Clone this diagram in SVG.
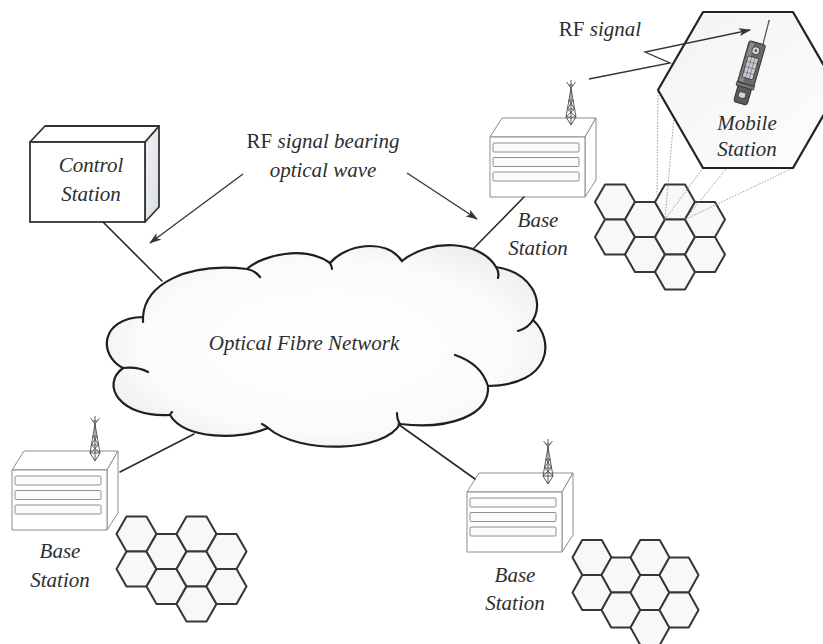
<svg xmlns="http://www.w3.org/2000/svg" xmlns:xlink="http://www.w3.org/1999/xlink" width="823" height="644" viewBox="0 0 823 644">
  <style>
    .lbl { font-family: "Liberation Serif", "DejaVu Serif", serif; font-style: italic; font-size: 21px; fill: #2e2e2e; text-anchor: middle; }
    .up { font-style: normal; }
    .link { stroke: #2a2a2a; stroke-width: 1.6; fill: none; stroke-linecap: round; }
    .arrow { stroke: #333; stroke-width: 1.3; fill: none; marker-end: url(#head); }
    .box { fill: #ffffff; stroke: #8c8c8c; stroke-width: 1; stroke-linejoin: round; }
    .bar { fill: #fbfbfb; stroke: #8f8f8f; stroke-width: 1; }
    .tower { stroke: #4a4a4a; stroke-width: 0.9; fill: none; }
    .cell { fill: #f8f8f8; stroke: #363636; stroke-width: 2; stroke-linejoin: round; }
    .dot { stroke: #9a9a9a; stroke-width: 1; stroke-dasharray: 1.5 1.5; fill: none; }
    .cloudline { fill: none; stroke: #1f1f1f; stroke-width: 2.2; stroke-linecap: round; stroke-linejoin: round; }
  </style>
  <defs>
    <marker id="head" viewBox="0 0 12 8" refX="11" refY="4" markerWidth="12" markerHeight="8" markerUnits="userSpaceOnUse" orient="auto">
      <path d="M0,0 L12,4 L0,8 L3,4 Z" fill="#333"/>
    </marker>
    <radialGradient id="cloudFill" cx="0.5" cy="0.5" r="0.6">
      <stop offset="0" stop-color="#ffffff"/>
      <stop offset="0.7" stop-color="#fbfbfb"/>
      <stop offset="1" stop-color="#ececec"/>
    </radialGradient>
    <linearGradient id="sideFill" x1="0" y1="0" x2="1" y2="1">
      <stop offset="0" stop-color="#f2f3f6"/>
      <stop offset="1" stop-color="#d9dde6"/>
    </linearGradient>
    <linearGradient id="hexFill" x1="0" y1="0" x2="1" y2="1">
      <stop offset="0" stop-color="#f3f3f3"/>
      <stop offset="1" stop-color="#fdfdfd"/>
    </linearGradient>
    <path id="cell" class="cell" d="M-20,0 L-10,-17.5 L10,-17.5 L20,0 L10,17.5 L-10,17.5 Z"/>
    <path id="cell-s" class="cell" d="M-19.5,0 L-9.75,-17.5 L9.75,-17.5 L19.5,0 L9.75,17.5 L-9.75,17.5 Z"/>
    <!-- equipment cabinet, origin at front top-left corner -->
    <g id="cabinet">
      <path class="box" d="M0,0 L12,-19 L106,-19 L95,0 Z"/>
      <path class="box" d="M95,0 L106,-19 L106,43 L95,60 Z"/>
      <rect class="box" x="0" y="0" width="95" height="60"/>
      <rect class="bar" x="3" y="6" width="86" height="9" rx="1"/>
      <rect class="bar" x="3" y="20.5" width="86" height="9" rx="1"/>
      <rect class="bar" x="3" y="35" width="86" height="9" rx="1"/>
    </g>
    <!-- lattice mast, origin at its foot -->
    <g id="mast" class="tower">
      <path d="M0,-37 L-5,-8 L0,0 L5,-8 Z"/>
      <path d="M0,-37 V0 M-2.2,-25 H2.2 M-3.6,-16 H3.6 M-5,-8 H5 M-2.2,-25 L3.6,-16 M2.2,-25 L-3.6,-16 M-3.6,-16 L5,-8 M3.6,-16 L-5,-8"/>
      <path d="M0,-37 L-4.5,-43 M0,-37 V-45 M0,-37 L4.5,-43 M-2,-40 H2"/>
    </g>
  </defs>

  <rect width="823" height="644" fill="#ffffff"/>

  <!-- Optical fibre network cloud -->
  <g id="optical-fibre-network">
    <path d="M143,317 C145,285 185,262 247,269 C262,255 305,245 330,263 C345,245 385,237 402,261 C430,238 480,240 496,267 C530,272 545,300 533,320 C555,340 552,385 488,386 C490,415 450,430 400,424 C385,452 300,455 268,428 C240,440 185,440 170,415 C120,418 100,385 123,368 C98,355 100,318 143,317 Z" fill="url(#cloudFill)" stroke="none"/>
    <path class="cloudline" d="M143,317 C145,285 185,262 247,269 C252,270 257,273 260,277"/>
    <path class="cloudline" d="M247,269 C262,255 305,245 330,263 C331,265 332,267 332,269"/>
    <path class="cloudline" d="M330,263 C345,245 385,237 402,261"/>
    <path class="cloudline" d="M402,261 C430,238 480,240 496,267 C498,270 499,274 498,278"/>
    <path class="cloudline" d="M496,267 C530,272 545,300 533,320 C530,325 525,329 518,331"/>
    <path class="cloudline" d="M533,320 C555,340 552,385 488,386"/>
    <path class="cloudline" d="M455,355 C470,360 483,370 488,386 C490,415 450,430 400,424 C398,421 397,417 397,413"/>
    <path class="cloudline" d="M400,424 C385,452 300,455 268,428 C266,426 264,425 262,424"/>
    <path class="cloudline" d="M268,428 C240,440 185,440 170,415 C170,414 171,413 172,412"/>
    <path class="cloudline" d="M170,415 C120,418 100,385 123,368 C132,367 141,368 148,372"/>
    <path class="cloudline" d="M123,368 C98,355 100,318 143,317 C143,318 143,320 143,322"/>
    <text class="lbl" x="304" y="350" font-size="22">Optical Fibre Network</text>
  </g>

  <!-- Control station -->
  <g id="control-station">
    <path d="M145,142 L159,126 L159,207 L145,222 Z" fill="url(#sideFill)" stroke="#333" stroke-width="1.8" stroke-linejoin="round"/>
    <path d="M30,142 L45,126 L159,126 L145,142 Z" fill="#ffffff" stroke="#333" stroke-width="1.8" stroke-linejoin="round"/>
    <rect x="30" y="142" width="115" height="80" fill="#ffffff" stroke="#333" stroke-width="1.8"/>
    <text class="lbl" x="91" y="172">Control</text>
    <text class="lbl" x="91" y="201">Station</text>
  </g>

  <!-- Base station, upper right -->
  <g id="base-station-1">
    <use href="#cabinet" x="490" y="137"/>
    <use href="#mast" x="571" y="125"/>
    <text class="lbl" x="538" y="227">Base</text>
    <text class="lbl" x="538" y="255">Station</text>
  </g>

  <!-- Base station, lower left -->
  <g id="base-station-2">
    <use href="#cabinet" x="12" y="470"/>
    <use href="#mast" x="95" y="461"/>
    <text class="lbl" x="60" y="558">Base</text>
    <text class="lbl" x="60" y="587">Station</text>
  </g>

  <!-- Base station, lower right -->
  <g id="base-station-3">
    <use href="#cabinet" x="467" y="492"/>
    <use href="#mast" x="548" y="484"/>
    <text class="lbl" x="515" y="582">Base</text>
    <text class="lbl" x="515" y="610">Station</text>
  </g>

  <!-- cell clusters -->
  <g id="cells-1">
    <use href="#cell" x="615" y="202"/><use href="#cell" x="615" y="237"/>
    <use href="#cell" x="645" y="219.5"/><use href="#cell" x="645" y="254.5"/>
    <use href="#cell" x="675" y="202"/><use href="#cell" x="675" y="237"/><use href="#cell" x="675" y="272"/>
    <use href="#cell" x="705" y="219.5"/><use href="#cell" x="705" y="254.5"/>
  </g>
  <g id="cells-2">
    <use href="#cell" x="136.5" y="534"/><use href="#cell" x="136.5" y="569"/>
    <use href="#cell" x="166.5" y="551.5"/><use href="#cell" x="166.5" y="586.5"/>
    <use href="#cell" x="196.5" y="534"/><use href="#cell" x="196.5" y="569"/><use href="#cell" x="196.5" y="604"/>
    <use href="#cell" x="226.5" y="551.5"/><use href="#cell" x="226.5" y="586.5"/>
  </g>
  <g id="cells-3">
    <use href="#cell-s" x="592" y="557.5"/><use href="#cell-s" x="592" y="592.5"/>
    <use href="#cell-s" x="621" y="575"/><use href="#cell-s" x="621" y="610"/>
    <use href="#cell-s" x="650" y="557.5"/><use href="#cell-s" x="650" y="592.5"/><use href="#cell-s" x="650" y="627.5"/>
    <use href="#cell-s" x="679" y="575"/><use href="#cell-s" x="679" y="610"/>
  </g>

  <!-- projection of the enlarged cell onto its place in the cluster -->
  <g id="cell-projection">
    <path class="dot" d="M658,92 L657,195"/>
    <path class="dot" d="M674,117 L665,219.5"/>
    <path class="dot" d="M703,168 L665,219.5"/>
    <path class="dot" d="M726,169 L685,219.5"/>
    <path class="dot" d="M793,168 L685,219.5"/>
  </g>

  <!-- Mobile station inside enlarged cell -->
  <g id="mobile-station">
    <path d="M658,90 L703,12 L793,12 L838,90 L793,168 L703,168 Z" fill="url(#hexFill)" stroke="#222" stroke-width="2.2" stroke-linejoin="round"/>
    <path d="M763,44 L769,21" stroke="#555" stroke-width="1.2" fill="none"/>
    <circle cx="769" cy="21" r="1" fill="#555"/>
    <g transform="rotate(16 751.5 64)">
      <rect x="744.5" y="87" width="14" height="18" rx="3" fill="#5a5a5a" stroke="#333" stroke-width="1"/>
      <ellipse cx="751" cy="96.5" rx="3.8" ry="3.2" fill="#d4d4d4" stroke="#333" stroke-width="0.8"/>
      <rect x="742.5" y="84" width="18" height="4.5" fill="#777" stroke="#333" stroke-width="0.8"/>
      <rect x="743" y="42" width="17" height="43" rx="2.5" fill="#6a6a6a" stroke="#333" stroke-width="1"/>
      <rect x="744.5" y="43.5" width="4" height="40" fill="#8a8a8a"/>
      <circle cx="752" cy="50" r="3.8" fill="#d8d8d8" stroke="#333" stroke-width="0.8"/>
      <circle cx="752" cy="50" r="1.4" fill="#555"/>
      <rect x="746" y="57" width="11" height="22" rx="1" fill="#c9cad6" stroke="#333" stroke-width="0.8"/>
      <path d="M746,62.5 H757 M746,68 H757 M746,73.5 H757 M749.7,57 V79 M753.3,57 V79" stroke="#555" stroke-width="0.5"/>
    </g>
    <text class="lbl" x="747" y="130" font-size="20">Mobile</text>
    <text class="lbl" x="747" y="156" font-size="20">Station</text>
  </g>

  <!-- links from the network to each station, plus the pointer arrows -->
  <g id="connectors">
    <path class="link" d="M103,222 L162,281"/>
    <path class="link" d="M474,248 L524,197"/>
    <path class="link" d="M194,434 L120,472"/>
    <path class="link" d="M398,424 L475,479"/>
    <path class="arrow" d="M243,174 L150,243"/>
    <path class="arrow" d="M407,173 L477,219"/>
    <path class="arrow" d="M589,79 L670,63 L645,52 L750,30"/>
  </g>

  <!-- captions -->
  <g id="captions">
    <text class="lbl" x="323" y="148" font-size="22"><tspan class="up">RF</tspan> signal bearing</text>
    <text class="lbl" x="323" y="177" font-size="22">optical wave</text>
    <text class="lbl" x="600" y="36" font-size="21"><tspan class="up">RF</tspan> signal</text>
  </g>
</svg>
